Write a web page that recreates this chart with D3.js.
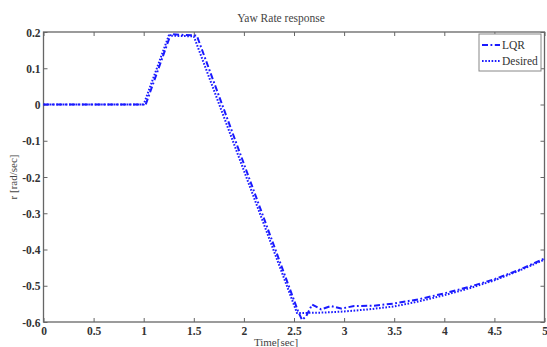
<!DOCTYPE html>
<html>
<head>
<meta charset="utf-8">
<script src="https://cdn.jsdelivr.net/npm/d3@7"></script>
<style>
  html, body { margin: 0; padding: 0; background: #fff; }
  svg { display: block; }
</style>
</head>
<body>
<svg id="chart" width="547" height="347"></svg>
<script>
// ---- data ----
const xTicks = [0, 0.5, 1, 1.5, 2, 2.5, 3, 3.5, 4, 4.5, 5];
const xTickLabels = ["0", "0.5", "1", "1.5", "2", "2.5", "3", "3.5", "4", "4.5", "5"];
const yTicks = [0.2, 0.1, 0, -0.1, -0.2, -0.3, -0.4, -0.5, -0.6];
const yTickLabels = ["0.2", "0.1", "0", "-0.1", "-0.2", "-0.3", "-0.4", "-0.5", "-0.6"];

const lqrTime  = [0, 1.02, 1.27, 1.53, 2.54, 2.58, 2.62, 2.68, 2.77, 2.87, 2.97, 3.1, 3.3, 3.5, 3.75, 4.0, 4.25, 4.5, 4.75, 5.0];
const lqrValue = [0, 0, 0.194, 0.19, -0.57, -0.594, -0.585, -0.552, -0.565, -0.556, -0.563, -0.556, -0.555, -0.549, -0.537, -0.521, -0.503, -0.482, -0.456, -0.425];

const desTime  = [0, 1.0, 1.25, 1.5, 2.53, 2.6, 2.8, 3.0, 3.25, 3.5, 3.75, 4.0, 4.25, 4.5, 4.75, 5.0];
const desValue = [0, 0, 0.19, 0.188, -0.575, -0.575, -0.574, -0.571, -0.565, -0.557, -0.543, -0.526, -0.507, -0.485, -0.458, -0.428];

const seriesNames = ["LQR", "Desired"];

// ---- layout ----
const svg = d3.select("#chart");
const L = 43.5, R = 544.5, T = 32, B = 322;
const x = d3.scaleLinear().domain([0, 5]).range([L, R]);
const y = d3.scaleLinear().domain([-0.6, 0.2]).range([B, T]);
const axisColor = "#666";
const serif = "'Liberation Serif', 'Times New Roman', serif";

// axes with inward ticks
const gx = svg.append("g").attr("transform", `translate(0,${B})`)
  .call(d3.axisBottom(x).tickValues(xTicks).tickFormat((d,i) => xTickLabels[i]).tickSizeInner(-4).tickSizeOuter(0).tickPadding(5));
const gxTop = svg.append("g").attr("transform", `translate(0,${T})`)
  .call(d3.axisTop(x).tickValues(xTicks).tickFormat("").tickSizeInner(-4).tickSizeOuter(0));
const gy = svg.append("g").attr("transform", `translate(${L},0)`)
  .call(d3.axisLeft(y).tickValues(yTicks).tickFormat((d,i) => yTickLabels[i]).tickSizeInner(-4).tickSizeOuter(0).tickPadding(3));
const gyR = svg.append("g").attr("transform", `translate(${R},0)`)
  .call(d3.axisRight(y).tickValues(yTicks).tickFormat("").tickSizeInner(-4).tickSizeOuter(0));

[gx, gxTop, gy, gyR].forEach(g => {
  g.select(".domain").remove();
  g.selectAll("line").attr("stroke", axisColor).attr("stroke-width", 1);
  g.selectAll("text").attr("fill", "#333").style("font-family", serif)
    .style("font-size", "11.5px").style("font-weight", "bold");
});
gy.selectAll("text").attr("dy", "0.35em");

// frame
svg.append("rect").attr("x", L).attr("y", T).attr("width", R - L).attr("height", B - T)
  .attr("fill", "none").attr("stroke", axisColor).attr("stroke-width", 1.3);

// lines
const line = d3.line().x(d => x(d[0])).y(d => y(d[1]));
const lqrData = lqrTime.map((t, i) => [t, lqrValue[i]]);
const desData = desTime.map((t, i) => [t, desValue[i]]);
const blue = "#1a1aff";

svg.append("path").datum(desData).attr("d", line)
  .attr("fill", "none").attr("stroke", blue).attr("stroke-width", 2)
  .attr("stroke-dasharray", "1.6,1.6");
svg.append("path").datum(lqrData).attr("d", line)
  .attr("fill", "none").attr("stroke", blue).attr("stroke-width", 2)
  .attr("stroke-dasharray", "6,2.5,1.8,2.5");

// title and labels
svg.append("text").attr("x", 281).attr("y", 22).attr("text-anchor", "middle")
  .style("font-family", serif).style("font-size", "11.5px").attr("fill", "#444")
  .text("Yaw Rate response");
svg.append("text").attr("x", 276).attr("y", 346).attr("text-anchor", "middle")
  .style("font-family", serif).style("font-size", "11px").attr("fill", "#444")
  .text("Time[sec]");
svg.append("text").attr("transform", "translate(17,177) rotate(-90)").attr("text-anchor", "middle")
  .style("font-family", serif).style("font-size", "11px").attr("fill", "#444")
  .text("r [rad/sec]");

// legend
const lg = svg.append("g");
lg.append("rect").attr("x", 479).attr("y", 34).attr("width", 62).attr("height", 37)
  .attr("fill", "#fff").attr("stroke", "#888").attr("stroke-width", 1);
const dashes = ["6,2.5,1.8,2.5", "1.6,1.6"];
seriesNames.forEach((name, i) => {
  const yy = 45 + i * 16;
  lg.append("line").attr("x1", 482).attr("x2", 500).attr("y1", yy).attr("y2", yy)
    .attr("stroke", blue).attr("stroke-width", 2).attr("stroke-dasharray", dashes[i]);
  lg.append("text").attr("x", 502).attr("y", yy).attr("dy", "0.35em")
    .style("font-family", serif).style("font-size", "11.5px").attr("fill", "#333")
    .text(name);
});
</script>
</body>
</html>
